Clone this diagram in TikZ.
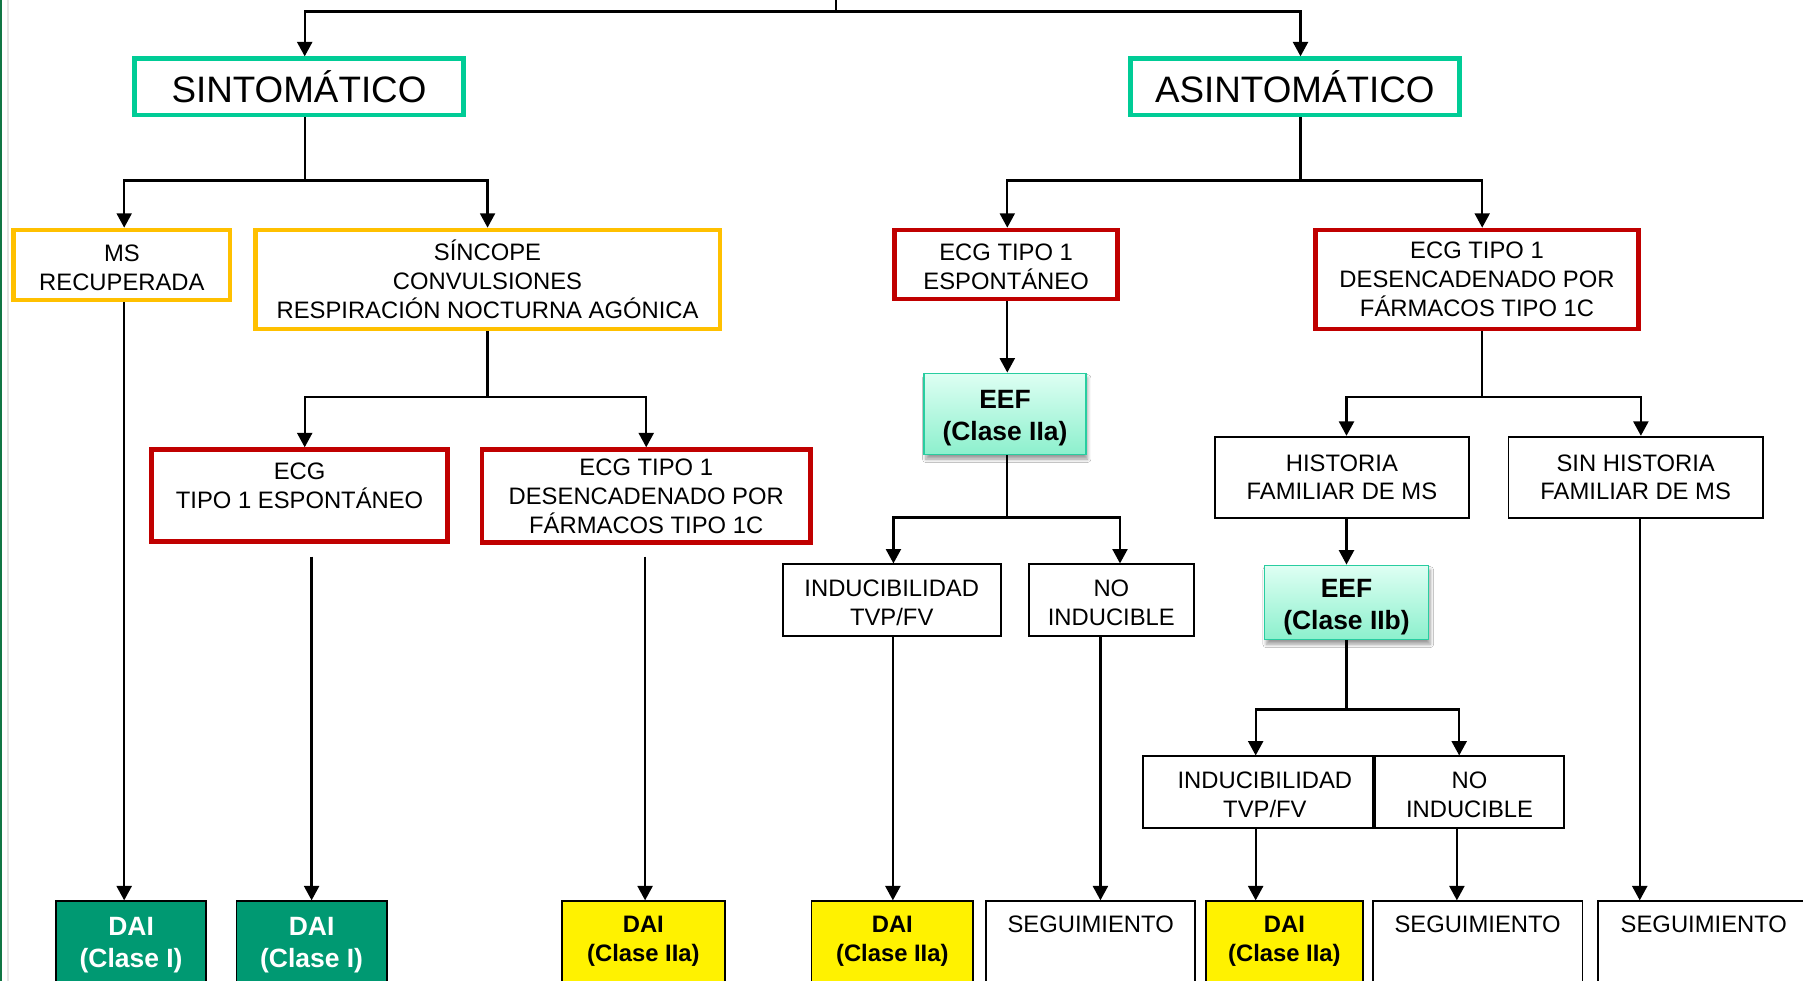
\documentclass[tikz,border=0pt]{standalone}
\usepackage{fontspec}
\setmainfont{Liberation Sans}
\usetikzlibrary{arrows.meta,shadows.blur,calc}

\definecolor{tealb}{RGB}{0,204,150}
\definecolor{orangeb}{RGB}{255,192,0}
\definecolor{redb}{RGB}{192,0,0}
\definecolor{daigreen}{RGB}{0,153,114}
\definecolor{eeftop}{RGB}{222,255,243}
\definecolor{eefbot}{RGB}{140,240,205}
\definecolor{eefedge}{RGB}{40,205,160}
\definecolor{edgegreen}{RGB}{16,118,68}

\begin{document}
\begin{tikzpicture}[x=1pt,y=-1pt,
  every node/.style={inner sep=0pt, align=center},
  txt/.style={font=\fontsize{20.7}{25}\selectfont},
  ttl/.style={font=\fontsize{32}{38}\selectfont},
  bld/.style={font=\fontsize{20.7}{25}\selectfont\bfseries},
  bldl/.style={font=\fontsize{23}{27.5}\selectfont\bfseries},
  cbox/.style={draw, line width=4pt, anchor=north west, fill=white},
  kbox/.style={draw=black, line width=1.5pt, anchor=north west, fill=white},
  eefbox/.style={draw=eefedge, line width=1.5pt, anchor=north west,
    top color=eeftop, bottom color=eefbot,
    blur shadow={shadow xshift=1.5pt, shadow yshift=-4pt, shadow blur steps=6,
      shadow blur radius=3pt, shadow opacity=40}},
  ln/.style={line width=2pt},
  arr/.style={line width=2pt, -{Triangle[length=12.5pt,width=13pt]}}
]
\useasboundingbox (0,0) rectangle (1568,853);
\clip (0,0) rectangle (1568,853);
\fill[white] (0,0) rectangle (1568,853);

% slide edge
\draw[edgegreen, line width=2pt] (1,0) -- (1,853);
\draw[black!10, line width=1pt] (7,0) -- (7,853);

% --- first level
\node[cbox, draw=tealb, ttl, minimum width=286pt, minimum height=49pt] (sint) at (115,49) {SINTOMÁTICO};
\node[cbox, draw=tealb, ttl, minimum width=286pt, minimum height=49pt] (asint) at (981,49) {ASINTOMÁTICO};

% --- symptomatic branch
\node[cbox, draw=orangeb, txt, minimum width=188pt, minimum height=61pt] (ms) at (10,198) {\rule{0pt}{18.8pt}MS\\RECUPERADA};
\node[cbox, draw=orangeb, txt, minimum width=404pt, minimum height=86pt] (sinc) at (220,198) {SÍNCOPE\\CONVULSIONES\\RESPIRACIÓN NOCTURNA AGÓNICA};
\node[cbox, draw=redb, minimum width=257pt, minimum height=80pt] (ecgl) at (130,389) {};
\node[txt, anchor=north] (ecgl-t) at (260.5,402.6) {ECG\\TIPO 1 ESPONTÁNEO};
\node[cbox, draw=redb, txt, minimum width=286pt, minimum height=81pt] (ecgdl) at (417,389) {ECG TIPO 1\\DESENCADENADO POR\\FÁRMACOS TIPO 1C};

% --- asymptomatic branch
\node[cbox, draw=redb, txt, minimum width=194pt, minimum height=60pt] (ecgr) at (776,198) {\rule{0pt}{18.8pt}ECG TIPO 1\\ESPONTÁNEO};
\node[cbox, draw=redb, txt, minimum width=281pt, minimum height=86pt] (ecgdr) at (1142,198) {ECG TIPO 1\\DESENCADENADO POR\\FÁRMACOS TIPO 1C};
\node[eefbox, bldl, minimum width=140.5pt, minimum height=70.5pt] (eef1) at (803,324) {\rule{0pt}{23pt}EEF\\(Clase IIa)};
\node[kbox, txt, minimum width=189.5pt, minimum height=62.5pt] (ind1) at (680,490) {\rule{0pt}{18.8pt}INDUCIBILIDAD\\TVP/FV};
\node[kbox, txt, minimum width=143.5pt, minimum height=62.5pt] (noind1) at (894,490) {\rule{0pt}{18.8pt}NO\\INDUCIBLE};
\node[kbox, txt, minimum width=220.5pt, minimum height=70.5pt] (hist) at (1056,379) {HISTORIA\\FAMILIAR DE MS};
\node[kbox, txt, minimum width=221.5pt, minimum height=70.5pt] (sinhist) at (1311,379) {SIN HISTORIA\\FAMILIAR DE MS};
\node[eefbox, bldl, minimum width=142.5pt, minimum height=64.5pt] (eef2) at (1099,491) {\rule{0pt}{24pt}EEF\\(Clase IIb)};
\node[kbox, minimum width=200.5pt, minimum height=62.5pt] (ind2) at (993,657) {};
\node[txt] (ind2-t) at ($(ind2.center)+(6,2)$) {INDUCIBILIDAD\\TVP/FV};
\node[kbox, txt, minimum width=164.5pt, minimum height=62.5pt] (noind2) at (1195,657) {\rule{0pt}{18.8pt}NO\\INDUCIBLE};

% --- outcomes (bottom row)
\node[kbox, fill=daigreen, minimum width=130.5pt, minimum height=100pt] (daig1) at (48,783) {};
\node[kbox, fill=daigreen, minimum width=130.5pt, minimum height=100pt] (daig2) at (205,783) {};
\node[kbox, fill=yellow, minimum width=141.5pt, minimum height=100pt] (daiy1) at (488,783) {};
\node[kbox, fill=yellow, minimum width=140.5pt, minimum height=100pt] (daiy2) at (705,783) {};
\node[kbox, minimum width=181.5pt, minimum height=100pt] (seg1) at (857,783) {};
\node[kbox, fill=yellow, minimum width=136.5pt, minimum height=100pt] (daiy3) at (1048,783) {};
\node[kbox, minimum width=182.5pt, minimum height=100pt] (seg2) at (1193,783) {};
\node[kbox, minimum width=200pt, minimum height=100pt] (seg3) at (1389,783) {};

\node[bldl, text=white, anchor=north] (daig1-t) at (daig1.north |- 0,797.8) {DAI\\(Clase I)};
\node[bldl, text=white, anchor=north] (daig2-t) at (daig2.north |- 0,797.8) {DAI\\(Clase I)};
\node[bld, anchor=north] (daiy1-t) at (daiy1.north |- 0,796.6) {DAI\\(Clase IIa)};
\node[bld, anchor=north] (daiy2-t) at (daiy2.north |- 0,796.6) {DAI\\(Clase IIa)};
\node[txt, anchor=north] (seg1-t) at (seg1.north |- 0,796.6) {SEGUIMIENTO};
\node[bld, anchor=north] (daiy3-t) at (daiy3.north |- 0,796.6) {DAI\\(Clase IIa)};
\node[txt, anchor=north] (seg2-t) at (seg2.north |- 0,796.6) {SEGUIMIENTO};
\node[txt, anchor=north] (seg3-t) at ([xshift=-8pt]seg3.north |- 0,796.6) {SEGUIMIENTO};

% --- connectors
\coordinate (root) at (727,0);
\coordinate (rj) at (727,10);
\draw[ln] (root) -- (rj);
\draw[arr] (rj) -| ([xshift=5pt]sint.north);
\draw[arr] (rj) -| ([xshift=5pt]asint.north);

\draw[ln] ([xshift=5pt]sint.south) -- ++(0,55) coordinate (sj);
\draw[arr] (sj) -| ([xshift=2pt]ms.north);
\draw[arr] (sj) -| (sinc.north);

\draw[ln] (sinc.south) -- ++(0,57) coordinate (cj);
\draw[arr] (cj) -| ([xshift=4.5pt]ecgl.north);
\draw[arr] (cj) -| (ecgdl.north);

\draw[arr] ([xshift=2pt]ms.south) -- ([xshift=2pt]ms.south |- daig1.north);
\draw[arr] ($(ecgl.south -| daig2.north)+(0,11)$) -- (daig2.north);
\draw[arr] ($(ecgdl.south -| daiy1.north)+(1.5,10)$) -- ([xshift=1.5pt]daiy1.north);

\draw[ln] ([xshift=5pt]asint.south) -- ++(0,55) coordinate (aj);
\draw[arr] (aj) -| ([xshift=1pt]ecgr.north);
\draw[arr] (aj) -| ([xshift=4.5pt]ecgdr.north);

\draw[arr] ([xshift=1pt]ecgr.south) -- ([xshift=1pt]ecgr.south |- eef1.north);
\draw[ln] ([xshift=2pt]eef1.south) -- ++(0,54) coordinate (ej1);
\draw[arr] (ej1) -| ([xshift=1.5pt]ind1.north);
\draw[arr] (ej1) -| ([xshift=7.5pt]noind1.north);
\draw[arr] ([xshift=1pt]ind1.south) -- ([xshift=1pt]ind1.south |- daiy2.north);
\draw[arr] ([xshift=-9.5pt]noind1.south) -- ([xshift=-9.5pt]noind1.south |- seg1.north);

\draw[ln] ([xshift=4.5pt]ecgdr.south) -- ++(0,57) coordinate (dj);
\draw[arr] (dj) -| ([xshift=4pt]hist.north);
\draw[arr] (dj) -| ([xshift=4.5pt]sinhist.north);
\draw[arr] ([xshift=4pt]hist.south) -- ([xshift=4pt]hist.south |- eef2.north);
\draw[ln] (eef2.south) -- ++(0,60) coordinate (ej2);
\draw[arr] (ej2) -| ([xshift=-2pt]ind2.north);
\draw[arr] (ej2) -| ([xshift=-9pt]noind2.north);
\draw[arr] ([xshift=-2pt]ind2.south) -- ([xshift=-2pt]ind2.south |- daiy3.north);
\draw[arr] ([xshift=-11pt]noind2.south) -- ([xshift=-11pt]noind2.south |- seg2.north);
\draw[arr] ([xshift=3.5pt]sinhist.south) -- ([xshift=3.5pt]sinhist.south |- seg3.north);
\end{tikzpicture}
\end{document}
